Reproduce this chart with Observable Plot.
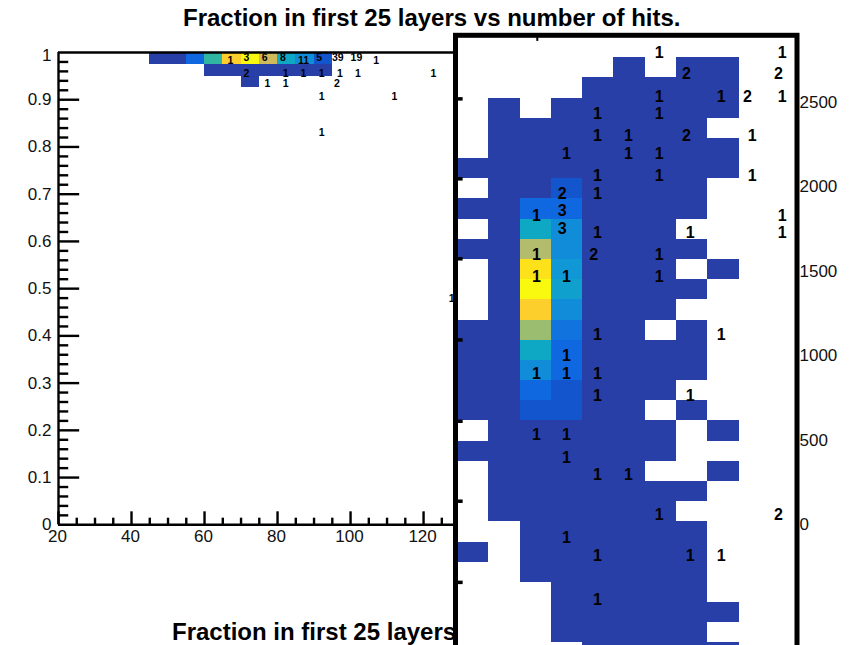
<!DOCTYPE html>
<html><head><meta charset="utf-8">
<script src="https://cdn.jsdelivr.net/npm/d3@7"></script>
<script src="https://cdn.jsdelivr.net/npm/@observablehq/plot@0.6"></script>
<style>
html,body{margin:0;padding:0;background:#fff;overflow:hidden}
#c{position:relative;width:859px;height:645px;overflow:hidden;font-family:"Liberation Sans",Arial,sans-serif}
#c>svg,#c>div.p{position:absolute;left:0;top:0}
.t{position:absolute;font-weight:bold;font-size:24px;color:#000;white-space:nowrap;line-height:26px}
</style></head><body><div id="c"></div>
<script>
const titleText = "Fraction in first 25 layers vs number of hits.";
const bottomText = "Fraction in first 25 layers";

// colour palette: count -> colour
const countStops = [1,3,5,7,9,11,13,15,17,19,21,23,25];
const countColors = ["#283fa8","#1255cc","#0f68e0","#1280dc","#0f98d5","#0ea8c5","#30b5a3","#9abd6f","#b3bb6c","#cfb95a","#fccf2c","#fde11a","#f9f90f"];

// Left panel: hits bins (width 5), fraction bins (width 0.025)
const leftBinW = 5, leftBinH = 0.025;
const leftTop = {start:45, frac:0.975, counts:[1,1,5,13,21,25,19,11,8,3]};
const leftMid = {start:60, frac:0.95,  counts:[1,1,1,1,1,1,1]};
const leftLow = {start:70, frac:0.925, counts:[1]};
const leftLabelX = [67.1,71.5,76.5,81.5,87.1,91.4,96.5,101.6,107,71.5,82.2,87.1,92.1,97.1,102,122.7,77.2,82.2,96.3,92.1,112,92.1,127.7];
const leftLabelY = [.982,.989,.989,.989,.982,.989,.989,.989,.982,.9555,.9555,.9555,.9555,.9555,.9555,.9555,.9335,.9335,.9335,.906,.906,.8305,.479];
const leftLabelT = ["1","3","6","8","11","5","39","19","1","2","1","1","1","1","1","1","1","1","2","1","1","1","1"];
const xMajor = [20,40,60,80,100,120];
const xMinor = d3.range(25,128,5).filter(d=>d%20);
const yMajor = d3.range(0,10).map(d=>d/10);
const yMinor = d3.range(2,100,2).filter(d=>d%10).map(d=>d/100);

// Right panel: counts by row (top to bottom), 9 columns
const rightCounts = [
 [0,0,0,0,0,1,0,1,1],
 [0,0,0,0,1,1,1,1,1],
 [0,1,0,1,1,1,1,1,1],
 [0,1,1,1,1,1,1,1,0],
 [0,1,1,1,1,1,1,1,1],
 [1,1,1,1,1,1,1,1,1],
 [0,1,1,3,1,1,1,1,0],
 [1,1,5,5,1,1,1,1,0],
 [0,1,11,8,1,1,1,0,0],
 [1,1,17,8,1,1,1,1,0],
 [0,1,23,9,1,1,1,0,1],
 [0,1,25,10,1,1,1,1,0],
 [0,1,21,8,1,1,1,0,0],
 [1,1,15,6,1,1,0,1,0],
 [1,1,11,5,1,1,1,1,0],
 [1,1,8,5,1,1,1,1,0],
 [1,1,5,3,1,1,1,0,0],
 [1,1,3,3,1,1,0,1,0],
 [0,1,1,1,1,1,1,0,1],
 [1,1,1,1,1,1,1,0,0],
 [0,1,1,1,1,1,0,0,1],
 [0,1,1,1,1,1,1,1,0],
 [0,1,1,1,1,1,1,0,0],
 [0,0,1,1,1,1,1,1,0],
 [1,0,1,1,1,1,1,1,0],
 [0,0,1,1,1,1,1,1,0],
 [0,0,0,1,1,1,1,1,0],
 [0,0,0,1,1,1,1,1,1],
 [0,0,0,1,1,1,1,1,0],
 [0,0,0,0,1,1,1,1,1]
];
const rightLabelCol = [6.45,10.38,7.32,10.26,6.45,8.43,9.27,10.38,4.47,6.45,4.47,5.46,7.32,9.42,3.48,5.46,6.45,4.47,6.45,9.42,3.35,4.47,3.35,2.52,10.38,3.35,4.47,7.44,10.38,2.52,4.35,6.45,2.52,3.48,6.45,4.47,8.43,3.48,2.52,3.48,4.47,4.47,7.44,2.52,3.48,3.48,4.47,5.46,6.45,10.26,3.48,4.47,7.44,8.43,4.47];
const rightLabelRow = [-.26,-.26,.79,.79,1.92,1.92,1.92,1.92,2.77,2.77,3.9,3.9,3.9,3.9,4.75,4.75,4.75,5.88,5.88,5.88,6.73,6.73,7.57,7.86,7.86,8.47,8.66,8.66,8.66,9.78,9.78,9.78,10.84,10.84,10.84,13.73,13.73,14.8,15.69,15.69,15.69,16.77,16.77,18.71,18.71,19.84,20.69,20.69,22.67,22.67,23.78,24.67,24.67,24.67,26.85];
const rightLabelT = ["1","1","2","2","1","1","2","1","1","1","1","1","2","1","1","1","1","1","1","1","2","1","3","1","1","3","1","1","1","1","2","1","1","1","1","1","1","1","1","1","1","1","1","1","1","1","1","1","1","2","1","1","1","1","1"];
const rightAxisTicks = [0,500,1000,1500,2000,2500];
const rightSideTicks = [2520,2047,1574,1094,613,140,-340];
const rightTopTick = [2.55];

// one row of the right panel expressed on the axis at its right side
const rowToValue = r => 2500*(23.15-r)/20.94;

const colorScale = {type:"linear",domain:countStops,range:countColors};

const leftCells = [leftTop,leftMid,leftLow].flatMap(r=>r.counts.map((c,i)=>({x:r.start+i*leftBinW,f:r.frac,c})));
const leftLabels = leftLabelT.map((t,i)=>({x:leftLabelX[i],y:leftLabelY[i],t}));

const left = Plot.plot({
  width:453,height:560,marginLeft:58,marginRight:0,marginTop:52,marginBottom:35.7,
  style:{background:"transparent",fontFamily:"'Liberation Sans',Arial,sans-serif"},
  x:{domain:[20,128.2],axis:null},
  y:{domain:[0,1],axis:null},
  color:colorScale,
  marks:[
    Plot.rect(leftCells,{x1:"x",x2:d=>d.x+leftBinW,y1:"f",y2:d=>d.f+leftBinH,fill:"c",inset:0,shapeRendering:"crispEdges"}),
    Plot.ruleX(xMajor,{y1:0,y2:0.0275,stroke:"#000",strokeWidth:2.4}),
    Plot.ruleX(xMinor,{y1:0,y2:0.014,stroke:"#000",strokeWidth:2.4}),
    Plot.ruleY(yMajor.slice(1),{x1:20,x2:25.8,stroke:"#000",strokeWidth:2.4}),
    Plot.ruleY(yMinor,{x1:20,x2:22.8,stroke:"#000",strokeWidth:2.4}),
    Plot.ruleX([20],{stroke:"#000",strokeWidth:2.4}),
    Plot.ruleY([0,1],{stroke:"#000",strokeWidth:2.4}),
    Plot.axisX(xMajor,{tickSize:0,tickPadding:5.5,fontSize:17,label:null,dx:-1,fill:"#111",tickFormat:d=>String(d)}),
    Plot.axisY(yMajor,{tickSize:0,tickPadding:7,fontSize:17,label:null,fill:"#111",tickFormat:d=>String(d)}),
    Plot.axisY([1],{tickSize:0,tickPadding:7,fontSize:17,label:null,fill:"#111",dy:3,tickFormat:d=>String(d)}),
    Plot.text(leftLabels,{x:"x",y:"y",text:"t",fontSize:10.5,fontWeight:"bold",fill:"#000"})
  ]
});

const rightCells = rightCounts.flatMap((row,r)=>row.map((c,col)=>({col,r,c}))).filter(d=>d.c>0);
const rightLabels = rightLabelT.map((t,i)=>({col:rightLabelCol[i],v:rowToValue(rightLabelRow[i]),t}));

const right = Plot.plot({
  width:859,height:650,marginLeft:455,marginRight:62.5,marginTop:34.8,marginBottom:0,
  style:{background:"transparent",fontFamily:"'Liberation Sans',Arial,sans-serif"},
  x:{domain:[-0.064,10.85],axis:null},
  y:{domain:[-743,2896],axis:null},
  color:colorScale,
  marks:[
    Plot.frame({fill:"#fff",stroke:"none"}),
    Plot.rect(rightCells,{x1:"col",x2:d=>d.col+1,y1:d=>rowToValue(d.r),y2:d=>rowToValue(d.r+1),fill:"c",inset:0,shapeRendering:"crispEdges"}),
    Plot.ruleY(rightSideTicks,{x1:0,x2:0.18,stroke:"#000",strokeWidth:3.5}),
    Plot.ruleX(rightTopTick,{y1:2896,y2:2860,stroke:"#000",strokeWidth:2}),
    Plot.text(rightLabels,{x:"col",y:"v",text:"t",fontSize:16,fontWeight:"bold",fill:"#000"}),
    Plot.frame({stroke:"#000",strokeWidth:5}),
    Plot.axisY(rightAxisTicks,{anchor:"right",tickSize:0,tickPadding:2.5,fontSize:17,label:null,fill:"#111",tickFormat:d=>String(d)})
  ]
});

const c = document.getElementById("c");
c.appendChild(left);
const addText = (s,x,y,parent)=>{const d=document.createElement("div");d.className="t";d.textContent=s;d.style.left=x+"px";d.style.top=y+"px";parent.appendChild(d);};
addText(bottomText,172,619,c);
c.appendChild(right);
addText(titleText,183,5,c);
</script></body></html>
